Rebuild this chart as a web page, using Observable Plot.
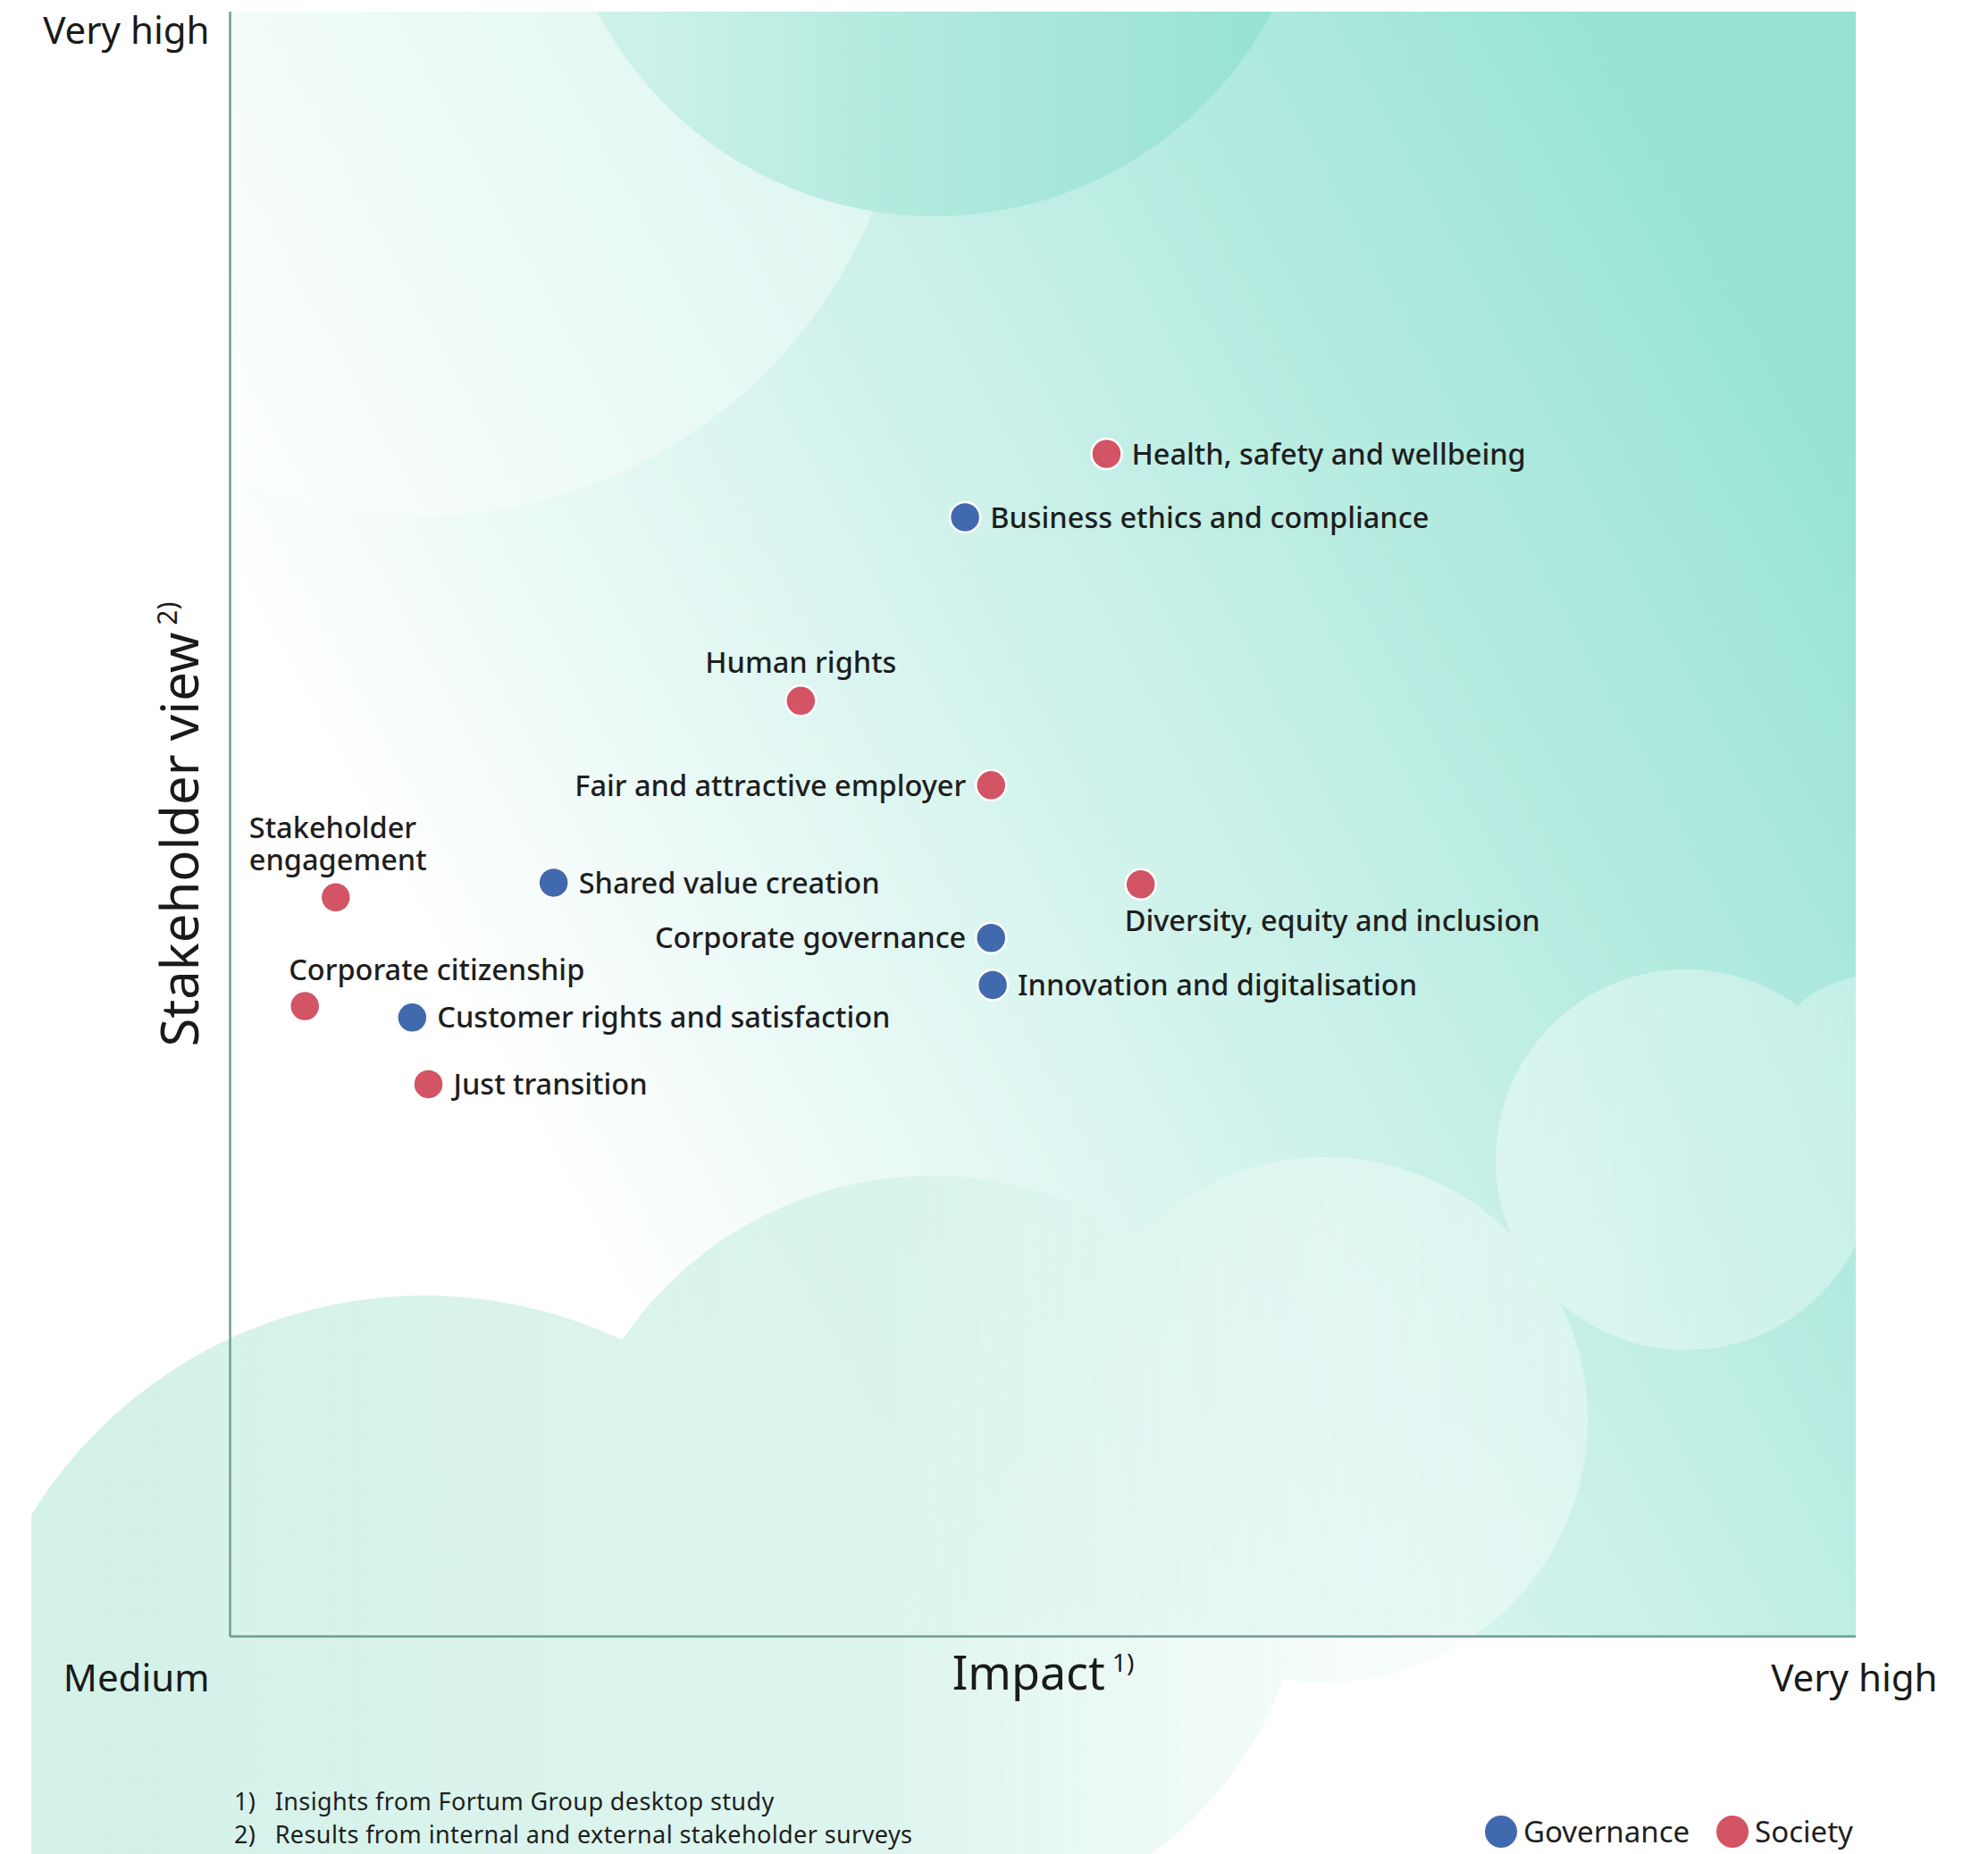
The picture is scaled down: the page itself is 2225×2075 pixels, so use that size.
<!DOCTYPE html>
<html>
<head>
<meta charset="utf-8">
<script src="https://cdn.jsdelivr.net/npm/d3@7"></script>
<script src="https://cdn.jsdelivr.net/npm/@observablehq/plot@0.6"></script>
<style>
  html, body { margin: 0; padding: 0; background: #ffffff; }
  #page { position: relative; width: 2225px; height: 2075px; overflow: hidden; font-family: "Noto Sans", sans-serif; color: #1e1e1e; }
  #bg { position: absolute; left: 0; top: 0; }
  #chart { position: absolute; left: 0; top: 0; }
  #notes { position: absolute; left: 262px; top: 1997px; font-size: 27px; letter-spacing: 0.4px; line-height: 37px; color: #1e1e1e; }
  #legend { position: absolute; left: 1662px; top: 2032px; display: flex; align-items: center; font-size: 33px; line-height: 36px; color: #1e1e1e; }
  .item { display: inline-flex; align-items: center; margin-right: 30px; }
  .swatch { width: 36px; height: 36px; border-radius: 50%; margin-right: 7px; }
</style>
</head>
<body>
<div id="page">
  <svg id="bg" width="2225" height="2075"></svg>
  <div id="chart"></div>
  <div id="notes"></div>
  <div id="legend"></div>
</div>
<script>
// ---------------- data ----------------
const topics = [
  "Health, safety and wellbeing",
  "Business ethics and compliance",
  "Human rights",
  "Fair and attractive employer",
  "Stakeholder\nengagement",
  "Shared value creation",
  "Diversity, equity and inclusion",
  "Corporate governance",
  "Innovation and digitalisation",
  "Corporate citizenship",
  "Customer rights and satisfaction",
  "Just transition"
];
const pillar = [
  "Society", "Governance", "Society", "Society", "Society", "Governance",
  "Society", "Governance", "Governance", "Society", "Governance", "Society"
];
// Impact (x) and stakeholder view (y) on a 0–100 scale
const impact = [53.9, 45.2, 35.1, 46.8, 6.5, 19.9, 56.0, 46.8, 46.9, 4.6, 11.2, 12.2];
const stakeholderView = [72.8, 68.9, 57.6, 52.4, 45.5, 46.4, 46.3, 43.0, 40.1, 38.8, 38.1, 34.0];
// where each label sits relative to its dot
const labelPlacement = [
  "right", "right", "above", "left", "aboveWide", "right",
  "belowStart", "left", "right", "aboveStart", "right", "right"
];

const pillars = ["Governance", "Society"];
const pillarColors = ["#4169ad", "#d35464"];
const axisLow = "Medium";
const axisHigh = "Very high";
const xAxisTitle = "Impact";
const xAxisNote = "1)";
const yAxisTitle = "Stakeholder view";
const yAxisNote = "2)";
const footnotes = [
  "1)\u2002 Insights from Fortum Group desktop study",
  "2)\u2002 Results from internal and external stakeholder surveys"
];

// ---------------- layout ----------------
const W = 2225, H = 1920;
const M = { left: 257, right: 148, top: 13, bottom: 89 };
const frame = { x: M.left, y: M.top, w: W - M.left - M.right, h: H - M.top - M.bottom };

const rows = topics.map((t, i) => ({
  topic: t, pillar: pillar[i], impact: impact[i], view: stakeholderView[i], place: labelPlacement[i]
}));

// ---------------- decorative background ----------------
const bg = d3.select("#bg");
const defs = bg.append("defs");
const fieldGrad = defs.append("linearGradient").attr("id", "fieldGrad")
  .attr("gradientUnits", "userSpaceOnUse")
  .attr("x1", frame.x + frame.w * 0.19).attr("y1", frame.y + frame.h * 0.71)
  .attr("x2", frame.x + frame.w).attr("y2", frame.y + frame.h * 0.27);
fieldGrad.append("stop").attr("offset", 0).attr("stop-color", "#ffffff");
fieldGrad.append("stop").attr("offset", 1).attr("stop-color", "#97e3d3");

const topGrad = defs.append("linearGradient").attr("id", "topGrad")
  .attr("gradientUnits", "userSpaceOnUse")
  .attr("x1", 640).attr("y1", 0).attr("x2", 1460).attr("y2", 0);
topGrad.append("stop").attr("offset", 0).attr("stop-color", "#d2f3eb");
topGrad.append("stop").attr("offset", 0.55).attr("stop-color", "#ace8db");
topGrad.append("stop").attr("offset", 1).attr("stop-color", "#96e2d2");

const cloudGrad = defs.append("linearGradient").attr("id", "cloudGrad")
  .attr("gradientUnits", "userSpaceOnUse")
  .attr("x1", 0).attr("y1", 0).attr("x2", W).attr("y2", 0);
cloudGrad.append("stop").attr("offset", 0).attr("stop-color", "#c2ece0").attr("stop-opacity", 0.72);
cloudGrad.append("stop").attr("offset", 0.45).attr("stop-color", "#d0f1e8").attr("stop-opacity", 0.7);
cloudGrad.append("stop").attr("offset", 0.68).attr("stop-color", "#eefaf7").attr("stop-opacity", 0.55);
cloudGrad.append("stop").attr("offset", 0.85).attr("stop-color", "#ffffff").attr("stop-opacity", 0.35);
cloudGrad.append("stop").attr("offset", 1).attr("stop-color", "#ffffff").attr("stop-opacity", 0.3);

defs.append("clipPath").attr("id", "frameClip").append("rect")
  .attr("x", frame.x).attr("y", frame.y).attr("width", frame.w).attr("height", frame.h);

const cloudMask = defs.append("mask").attr("id", "cloudMask")
  .attr("maskUnits", "userSpaceOnUse").attr("x", 0).attr("y", 0).attr("width", W).attr("height", 2075);
[[475, 1967, 517], [1043, 1735, 419], [1483, 1589, 294], [1887, 1298, 213], [2105, 1232, 142]]
  .forEach(([cx, cy, r]) => cloudMask.append("circle").attr("cx", cx).attr("cy", cy).attr("r", r).attr("fill", "#ffffff"));

bg.append("rect").attr("x", frame.x).attr("y", frame.y).attr("width", frame.w).attr("height", frame.h)
  .attr("fill", "url(#fieldGrad)");

const topG = bg.append("g").attr("clip-path", "url(#frameClip)");
topG.append("circle").attr("cx", 468).attr("cy", 28).attr("r", 550).attr("fill", "#ffffff").attr("opacity", 0.38);
topG.append("circle").attr("cx", 1046).attr("cy", -184).attr("r", 426).attr("fill", "url(#topGrad)");

bg.append("rect").attr("x", 35).attr("y", 0).attr("width", W - 35).attr("height", 2075)
  .attr("fill", "url(#cloudGrad)").attr("mask", "url(#cloudMask)");

// ---------------- chart ----------------
const labelFont = { fontSize: 32.5, fontWeight: 500, fill: "#1e1e1e", fontFamily: "Noto Sans" };
const placements = {
  right:      { dx: 28,  dy: 0,   textAnchor: "start" },
  left:       { dx: -28, dy: 0,   textAnchor: "end" },
  above:      { dx: 0,   dy: -43, textAnchor: "middle" },
  aboveWide:  { dx: -97, dy: -60, textAnchor: "start" },
  belowStart: { dx: -18, dy: 41,  textAnchor: "start" },
  aboveStart: { dx: -18, dy: -41, textAnchor: "start" }
};
const labelMarks = Object.entries(placements).map(([key, p]) =>
  Plot.text(rows.filter(d => d.place === key), {
    x: "impact", y: "view", text: "topic", ...p, ...labelFont, lineHeight: 1.12
  })
);

const axisFont = { fontFamily: "Noto Sans", fill: "#1a1a1a" };
const chart = Plot.plot({
  width: W,
  height: H,
  marginLeft: M.left,
  marginRight: M.right,
  marginTop: M.top,
  marginBottom: M.bottom,
  style: { background: "transparent", overflow: "visible", maxWidth: "none" },
  x: { domain: [0, 100], axis: null },
  y: { domain: [0, 100], axis: null },
  color: { domain: pillars, range: pillarColors },
  marks: [
    Plot.ruleX([0], { stroke: "#6f9d91", strokeWidth: 2.5 }),
    Plot.ruleY([0], { stroke: "#6f9d91", strokeWidth: 2.5 }),
    Plot.dot(rows, { x: "impact", y: "view", fill: "pillar", r: 17, stroke: "#ffffff", strokeWidth: 2.5 }),
    ...labelMarks,
    Plot.text([axisHigh], { frameAnchor: "top-left", textAnchor: "end", dx: -23, dy: 6, fontSize: 42, ...axisFont }),
    Plot.text([axisLow], { frameAnchor: "bottom-left", textAnchor: "end", dx: -23, dy: 61, fontSize: 42, ...axisFont }),
    Plot.text([axisHigh], { frameAnchor: "bottom-right", textAnchor: "end", dx: 91, dy: 61, fontSize: 42, ...axisFont }),
    Plot.text([xAxisTitle], { frameAnchor: "bottom", textAnchor: "middle", dy: 59, fontSize: 52, ...axisFont }),
    Plot.text([yAxisTitle], { frameAnchor: "left", textAnchor: "middle", rotate: -90, dx: -54, fontSize: 58, ...axisFont })
  ]
});

// superscript notes on the axis titles
d3.select(chart).selectAll("text").each(function () {
  const t = this.textContent;
  if (t === xAxisTitle || t === yAxisTitle) {
    d3.select(this).append("tspan")
      .attr("font-size", t === xAxisTitle ? 28 : 30).attr("dx", 8).attr("dy", t === xAxisTitle ? -20 : -24)
      .text(t === xAxisTitle ? xAxisNote : yAxisNote);
  }
});

document.getElementById("chart").appendChild(chart);

// ---------------- footnotes & legend ----------------
const notes = d3.select("#notes");
footnotes.forEach(f => notes.append("div").text(f));

const legend = d3.select("#legend");
pillars.forEach((p, i) => {
  const item = legend.append("div").attr("class", "item");
  item.append("div").attr("class", "swatch").style("background", pillarColors[i]);
  item.append("span").text(p);
});
</script>
</body>
</html>
